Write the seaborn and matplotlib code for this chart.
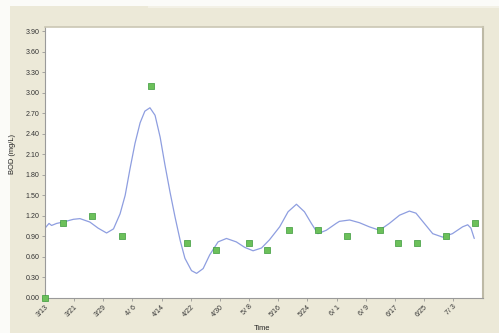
import matplotlib
matplotlib.use("Agg")
import matplotlib.pyplot as plt
from matplotlib.patches import Rectangle
import seaborn as sns
import pandas as pd
import numpy as np

# Measured BOD samples (date, mg/L)
sample_dates = ["3/13", "3/18", "3/26", "4/3", "4/11", "4/21", "4/29", "5/8", "5/13",
                "5/19", "5/27", "6/4", "6/13", "6/18", "6/23", "7/1", "7/9"]
sample_bod = [0.00, 1.10, 1.20, 0.90, 3.10, 0.80, 0.70, 0.80, 0.70,
              1.00, 1.00, 0.90, 1.00, 0.80, 0.80, 0.90, 1.10]

# Smoother curve (days after 3/13, mg/L)
curve_days = [0.0, 1.1, 1.8, 3.2, 5.0, 7.8, 9.6, 12.3, 14.6, 16.9, 18.8, 20.6, 22.0,
              23.3, 24.7, 26.1, 27.4, 28.8, 30.2, 31.6, 32.9, 34.3, 35.7, 37.1, 38.4,
              40.2, 41.6, 43.4, 45.2, 47.5, 49.8, 52.5, 54.8, 57.1, 59.4, 61.6, 64.4,
              66.7, 69.0, 71.2, 73.1, 74.9, 77.2, 79.9, 80.8, 83.6, 86.3, 89.0, 91.8,
              94.5, 97.3, 100.0, 101.8, 104.1, 106.4, 109.1, 111.8, 114.6, 116.0,
              116.9, 117.8]
curve_bod = [1.02, 1.09, 1.06, 1.09, 1.11, 1.15, 1.16, 1.11, 1.02, 0.95, 1.01, 1.23, 1.50,
             1.88, 2.26, 2.56, 2.73, 2.78, 2.67, 2.35, 1.95, 1.55, 1.18, 0.84, 0.58,
             0.40, 0.36, 0.43, 0.63, 0.82, 0.87, 0.82, 0.74, 0.69, 0.73, 0.85, 1.04,
             1.26, 1.37, 1.26, 1.09, 0.94, 0.99, 1.09, 1.12, 1.14, 1.10, 1.04, 0.99,
             1.09, 1.21, 1.27, 1.24, 1.09, 0.94, 0.89, 0.94, 1.04, 1.07,
             1.02, 0.87]

tick_dates = ["3/13", "3/21", "3/29", "4/6", "4/14", "4/22", "4/30", "5/8",
              "5/16", "5/24", "6/1", "6/9", "6/17", "6/25", "7/3"]

YEAR = 2010
start = pd.Timestamp(f"{YEAR}-03-13")


def to_ts(s):
    return pd.to_datetime(f"{YEAR}/{s}", format="%Y/%m/%d")


def tick_text(s):
    m, d = s.split("/")
    return f"{m}/{int(d):2d}"


samples = pd.DataFrame({"Time": [to_ts(s) for s in sample_dates], "BOD": sample_bod})
curve = pd.DataFrame({"Time": start + pd.to_timedelta(curve_days, unit="D"), "BOD": curve_bod})

sns.set_style("white")
plt.rcParams['font.family'] = ['Liberation Sans', 'DejaVu Sans']

fig = plt.figure(figsize=(4.99, 3.33), dpi=100, facecolor="#ECE9D8")
# light strips at the top/left edge of the screenshot
fig.patches.append(Rectangle((0, 1 - 6 / 333), 1, 6 / 333, transform=fig.transFigure,
                             facecolor="#FBFBF8", edgecolor="none", zorder=-1))
fig.patches.append(Rectangle((0, 0), 10 / 499, 1, transform=fig.transFigure,
                             facecolor="#FBFBF8", edgecolor="none", zorder=-1))
fig.patches.append(Rectangle((148 / 499, 1 - 8 / 333), 351 / 499, 2 / 333,
                             transform=fig.transFigure, facecolor="#F3F1E6",
                             edgecolor="none", zorder=-1))

ax = fig.add_axes([45 / 499, 35 / 333, 438 / 499, 271 / 333])
ax.set_facecolor("white")

sns.lineplot(data=curve, x="Time", y="BOD", ax=ax, color="#8E9EE0", linewidth=0.9,
             sort=False, zorder=2)
sns.scatterplot(data=samples, x="Time", y="BOD", ax=ax, marker="s", s=14,
                color="#6CC05A", edgecolor="#3A9A3A", linewidth=0.5, zorder=3,
                clip_on=False)

ax.set_ylim(0, 3.96)
ax.set_xlim(start, start + pd.Timedelta(days=120.2))
ax.set_yticks(np.arange(14) * 0.3)
ax.set_yticklabels([f"{v:.2f}" for v in np.arange(14) * 0.3])
ax.set_xticks([to_ts(s) for s in tick_dates])
ax.set_xticklabels([tick_text(s) for s in tick_dates], rotation=45, ha="right",
                   rotation_mode="anchor")

ax.tick_params(axis="both", labelsize=5.1, labelcolor="#333333", length=2.5,
               width=0.5, color="#888888", pad=1.5, direction="out",
               bottom=True, left=True)

ax.set_xlabel("Time", fontsize=5.4, color="#222222", labelpad=4)
ax.set_ylabel("BOD (mg/L)", fontsize=5.4, color="#222222", labelpad=4)
ax.xaxis.set_label_coords(0.495, -0.1)
ax.yaxis.set_label_coords(-0.066, 0.53)

for side in ["left", "bottom"]:
    ax.spines[side].set_color("#9A9A9A")
    ax.spines[side].set_linewidth(0.8)
ax.spines["top"].set_color("#CBC7B4")
ax.spines["top"].set_linewidth(1.2)
ax.spines["right"].set_color("#BDB9A6")
ax.spines["right"].set_linewidth(1.5)

fig.savefig("out.png", dpi=100, facecolor=fig.get_facecolor())
